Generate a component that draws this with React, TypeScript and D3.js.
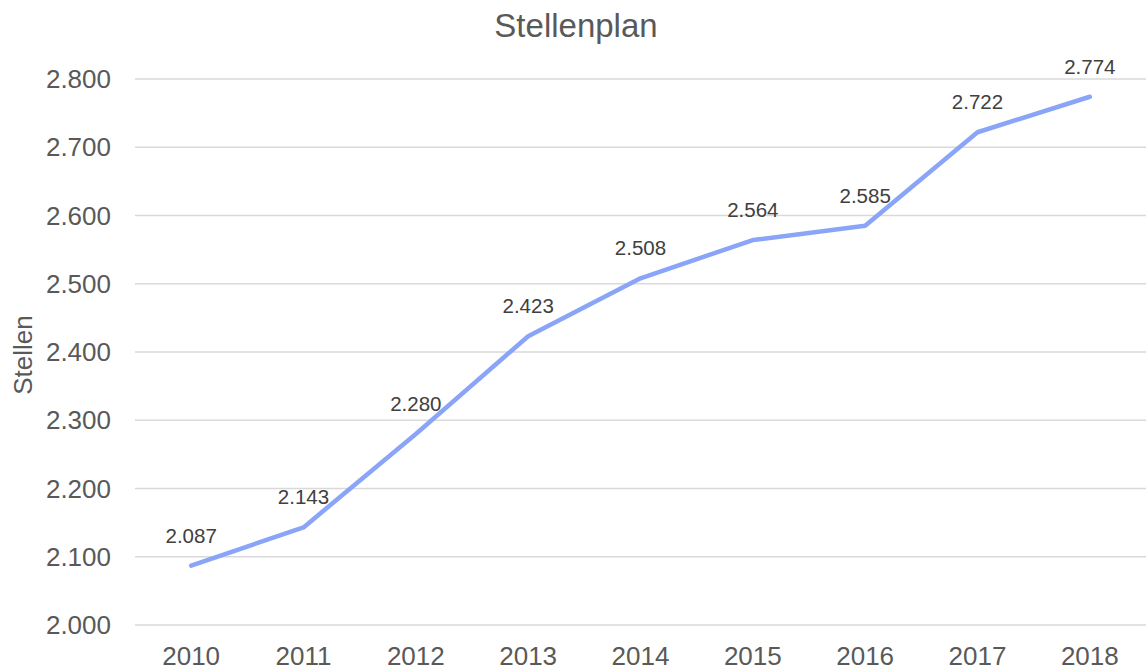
import React, { useEffect, useRef } from "react";
import * as d3 from "d3";

const years = ["2010", "2011", "2012", "2013", "2014", "2015", "2016", "2017", "2018"];
const stellen = [2087, 2143, 2280, 2423, 2508, 2564, 2585, 2722, 2774];
const yTicks = [2000, 2100, 2200, 2300, 2400, 2500, 2600, 2700, 2800];

const fmt = (v: number) => (v / 1000).toFixed(3);

const App = () => {
  const ref = useRef<SVGSVGElement>(null);

  useEffect(() => {
    const svg = d3.select(ref.current);
    svg.selectAll("*").remove();

    const width = 1146;
    const height = 670;
    const font = "Liberation Sans, Arial, sans-serif";

    const x = d3.scaleBand().domain(years).range([135, 1146]);
    const y = d3.scaleLinear().domain([2000, 2800]).range([625, 79]);

    // grid
    svg
      .selectAll(".grid")
      .data(yTicks)
      .enter()
      .append("line")
      .attr("x1", 135)
      .attr("x2", width)
      .attr("y1", (d) => y(d))
      .attr("y2", (d) => y(d))
      .style("stroke", "#d9d9d9")
      .style("stroke-width", 1.5);

    // y tick labels
    svg
      .selectAll(".ylab")
      .data(yTicks)
      .enter()
      .append("text")
      .attr("x", 111)
      .attr("y", (d) => y(d))
      .attr("dy", "0.35em")
      .attr("text-anchor", "end")
      .text((d) => fmt(d))
      .style("font-family", font)
      .style("font-size", "26px")
      .style("fill", "#595959");

    // x tick labels
    svg
      .selectAll(".xlab")
      .data(years)
      .enter()
      .append("text")
      .attr("x", (d) => x(d)! + x.bandwidth() / 2)
      .attr("y", 665)
      .attr("text-anchor", "middle")
      .text((d) => d)
      .style("font-family", font)
      .style("font-size", "26px")
      .style("fill", "#595959");

    const pts = years.map((yr, i) => ({ yr, v: stellen[i] }));

    const line = d3
      .line<{ yr: string; v: number }>()
      .x((d) => x(d.yr)! + x.bandwidth() / 2)
      .y((d) => y(d.v));

    svg
      .append("path")
      .datum(pts)
      .attr("d", line)
      .style("fill", "none")
      .style("stroke", "#8aa5f8")
      .style("stroke-width", 4.5)
      .style("stroke-linejoin", "round")
      .style("stroke-linecap", "round");

    // value labels
    svg
      .selectAll(".val")
      .data(pts)
      .enter()
      .append("text")
      .attr("x", (d) => x(d.yr)! + x.bandwidth() / 2)
      .attr("y", (d) => y(d.v) - 23)
      .attr("text-anchor", "middle")
      .text((d) => fmt(d.v))
      .style("font-family", font)
      .style("font-size", "20.5px")
      .style("fill", "#404040");

    // title
    svg
      .append("text")
      .attr("x", 576)
      .attr("y", 37)
      .attr("text-anchor", "middle")
      .text("Stellenplan")
      .style("font-family", font)
      .style("font-size", "33px")
      .style("fill", "#595959");

    // y axis title
    svg
      .append("text")
      .attr("transform", "translate(32,355) rotate(-90)")
      .attr("text-anchor", "middle")
      .text("Stellen")
      .style("font-family", font)
      .style("font-size", "26px")
      .style("fill", "#595959");

    svg.attr("width", width).attr("height", height);
  }, []);

  return (
    <svg
      ref={ref}
      style={{ position: "absolute", left: 0, top: 0, background: "#fff" }}
    ></svg>
  );
};

export default App;
